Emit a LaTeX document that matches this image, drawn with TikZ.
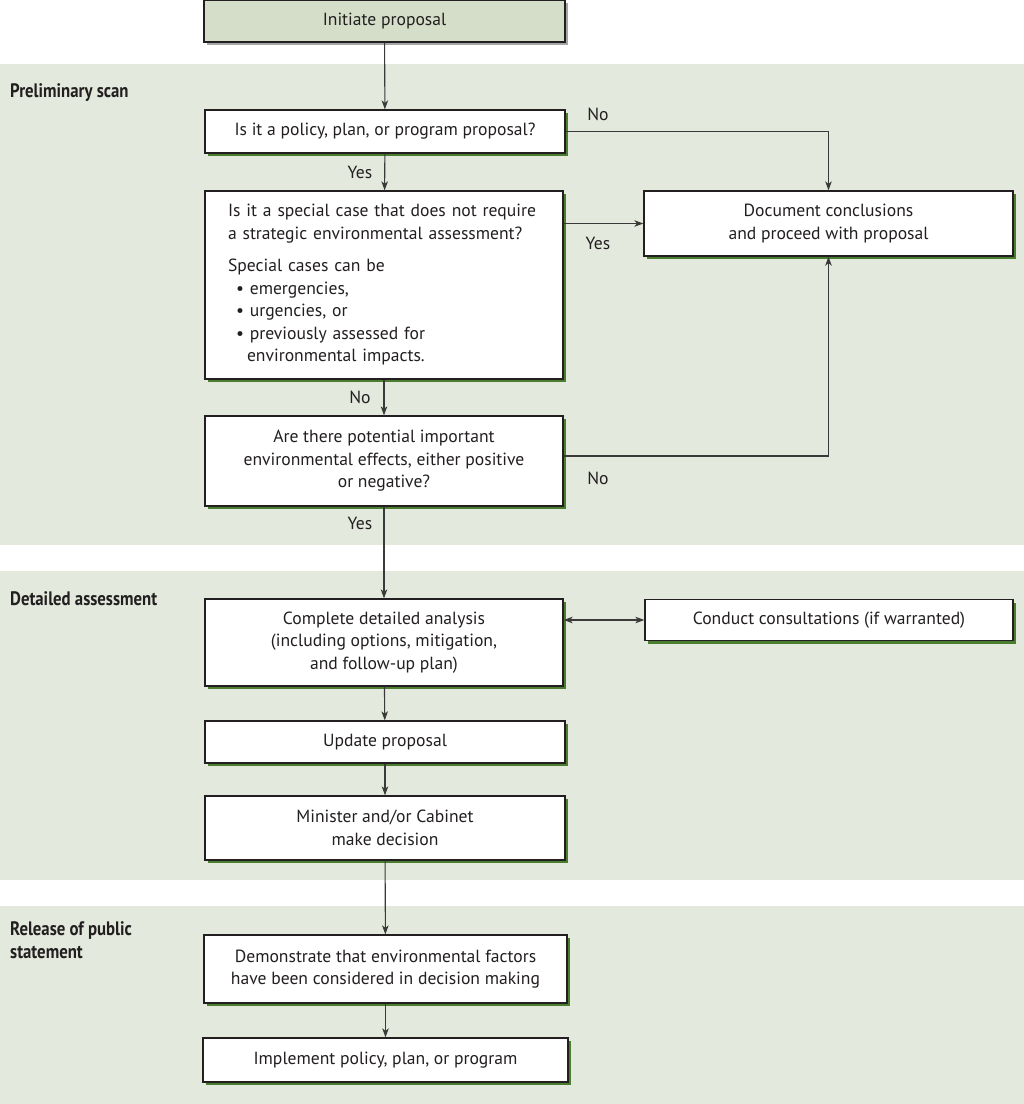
\documentclass[tikz,border=0pt]{standalone}
\usepackage{fontspec}
\setmainfont{PT Sans}
\newfontfamily\headfont[FakeStretch=0.86]{PT Sans}
\usetikzlibrary{shadows,arrows.meta}
\definecolor{bandc}{HTML}{E3E9DC}
\definecolor{topc}{HTML}{D4DEC9}
\definecolor{shgreen}{HTML}{4A7D2E}
\definecolor{linec}{HTML}{3A3A3A}
\definecolor{textc}{HTML}{231F20}
\tikzset{
  box/.style={draw=textc, line width=1.3pt, fill=white, align=center, text=textc,
    inner sep=4pt, font=\fontsize{17.6}{22.5}\selectfont,
    drop shadow={shadow xshift=3pt, shadow yshift=-3pt, fill=shgreen, opacity=1}},
  topbox/.style={box, fill=topc,
    drop shadow={shadow xshift=3pt, shadow yshift=-3pt, fill=black!35, opacity=1}},
  arr/.style={draw=linec, line width=1.1pt, -{Stealth[length=9pt,width=6.5pt,inset=2.5pt]}},
  lbl/.style={text=textc, font=\fontsize{17.6}{20}\selectfont, inner sep=0pt},
  head/.style={text=textc, font=\fontsize{19.5}{23}\headfont\bfseries, align=left, inner sep=0pt, anchor=north west}
}
\begin{document}
\begin{tikzpicture}[x=1pt,y=-1pt]
\useasboundingbox (0,0) rectangle (1024,1104);
\fill[white] (0,0) rectangle (1024,1104);
\fill[bandc] (0,64) rectangle (1024,545);
\fill[bandc] (0,571) rectangle (1024,880);
\fill[bandc] (0,906) rectangle (1024,1104);

\node[head] (h1) at (10,83) {Preliminary scan};
\node[head] (h2) at (10,591) {Detailed assessment};
\node[head] (h3) at (10,921) {Release of public\\statement};

\node[topbox, minimum width=361pt, minimum height=42pt] (init) at (384.5,21) {Initiate proposal};
\node[box, minimum width=360pt, minimum height=43pt] (policy) at (385,131.5) {Is it a policy, plan, or program proposal?};
\node[box, minimum width=358pt, minimum height=188pt, text width=312pt, align=left, inner xsep=23pt] (special) at (384,285)
 {Is it a special case that does not require\\
  a strategic environmental assessment?\\[10pt]
  Special cases can be\\
  \hspace*{8pt}\textbullet\ emergencies,\\
  \hspace*{8pt}\textbullet\ urgencies, or\\
  \hspace*{8pt}\textbullet\ previously assessed for\\
  \hspace*{19pt}environmental impacts.};
\node[box, minimum width=369pt, minimum height=65pt] (doc) at (828.5,223.5) {Document conclusions\\and proceed with proposal};
\node[box, minimum width=358pt, minimum height=90pt] (pot) at (384,461) {Are there potential important\\environmental effects, either positive\\or negative?};
\node[box, minimum width=358pt, minimum height=87pt] (comp) at (384,642.5) {Complete detailed analysis\\(including options, mitigation,\\and follow-up plan)};
\node[box, minimum width=368pt, minimum height=41pt] (cons) at (829,620) {Conduct consultations (if warranted)};
\node[box, minimum width=360pt, minimum height=42pt] (upd) at (385,742) {Update proposal};
\node[box, minimum width=360pt, minimum height=64pt] (min) at (385,828) {Minister and/or Cabinet\\make decision};
\node[box, minimum width=363pt, minimum height=68pt] (dem) at (385.5,969) {Demonstrate that environmental factors\\have been considered in decision making};
\node[box, minimum width=365pt, minimum height=44pt] (impl) at (385.5,1060) {Implement policy, plan, or program};

\draw[arr] (init) -- (policy);
\draw[arr] (policy) -- (special);
\draw[arr] (policy.east) -| (doc.north);
\draw[arr] (special.east |- doc.west) -- (doc.west);
\draw[arr] (special) -- (pot);
\draw[arr] ([yshift=5pt]pot.east) -| (doc.south);
\draw[arr] (pot) -- (comp);
\draw[draw=linec, line width=1.1pt, {Stealth[length=9pt,width=6.5pt,inset=2.5pt]}-{Stealth[length=9pt,width=6.5pt,inset=2.5pt]}] (comp.east |- cons.west) -- (cons.west);
\draw[arr] (comp) -- (upd);
\draw[arr] (upd) -- (min);
\draw[arr] (min) -- (dem);
\draw[arr] (dem) -- (impl);

\node[lbl] (l1) at (360,172) {Yes};
\node[lbl] (l2) at (598,114) {No};
\node[lbl] (l3) at (598,243) {Yes};
\node[lbl] (l4) at (360,397) {No};
\node[lbl] (l5) at (598,478) {No};
\node[lbl] (l6) at (360,523) {Yes};
\end{tikzpicture}
\end{document}
